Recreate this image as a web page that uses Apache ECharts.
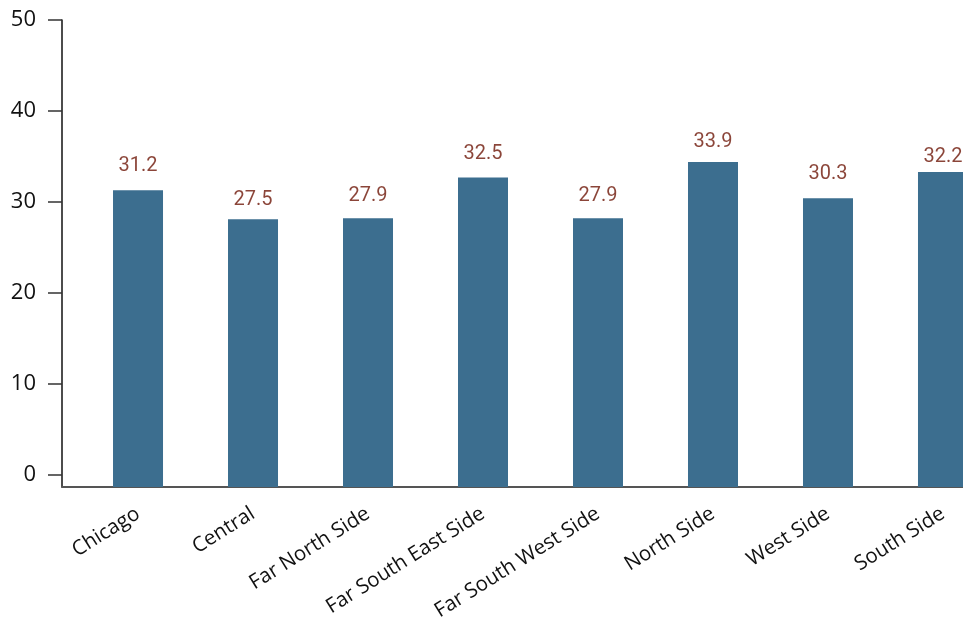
<!DOCTYPE html>
<html>
<head>
<meta charset="utf-8">
<script src="https://cdn.jsdelivr.net/npm/echarts@6/dist/echarts.min.js"></script>
<style>html,body{margin:0;padding:0;background:#fff;}#c{width:963px;height:618px;}</style>
</head>
<body>
<div id="c"></div>
<script>
const categories = ["Chicago", "Central", "Far North Side", "Far South East Side", "Far South West Side", "North Side", "West Side", "South Side"];
const barValues = [31.3, 28.1, 28.2, 32.7, 28.2, 34.4, 30.4, 33.3];
const labelValues = [31.2, 27.5, 27.9, 32.5, 27.9, 33.9, 30.3, 32.2];
const yTicks = [0, 10, 20, 30, 40, 50];

const chart = echarts.init(document.getElementById('c'));
chart.setOption({
  animation: false,
  backgroundColor: '#ffffff',
  grid: { left: 62, right: 0, top: 20, bottom: 131, containLabel: false, outerBoundsMode: 'none' },
  xAxis: {
    type: 'value',
    min: -0.661,
    max: 7.174,
    splitLine: { show: false },
    axisLine: { show: true, onZero: false, lineStyle: { color: '#555555', width: 2 } },
    axisTick: { show: false },
    axisLabel: {
      customValues: categories.map((_, i) => i),
      formatter: v => categories[Math.round(v)],
      rotate: 32,
      margin: 25,
      fontFamily: 'Open Sans',
      fontSize: 20.5,
      color: '#111111'
    }
  },
  yAxis: {
    type: 'value',
    min: -1.32,
    max: 50,
    startValue: -1.32,
    splitLine: { show: false },
    axisLine: { show: true, onZero: false, lineStyle: { color: '#111111', width: 1.5 } },
    axisTick: { show: true, customValues: yTicks, length: 14, lineStyle: { color: '#333333', width: 1.5 } },
    axisLabel: {
      customValues: yTicks,
      margin: 26,
      fontFamily: 'Open Sans',
      fontSize: 22,
      color: '#111111'
    }
  },
  series: [
    {
      type: 'bar',
      barWidth: 50,
      itemStyle: { color: '#3c6e8f' },
      data: barValues.map((v, i) => [i, v])
    },
    {
      type: 'scatter',
      symbolSize: 0,
      silent: true,
      data: labelValues.map((v, i) => [i, v]),
      label: {
        show: true,
        position: 'inside',
        offset: [0, -25],
        formatter: p => p.value[1].toFixed(1),
        fontFamily: 'Roboto',
        fontSize: 20,
        color: '#6e1608'
      }
    }
  ]
});
</script>
</body>
</html>
